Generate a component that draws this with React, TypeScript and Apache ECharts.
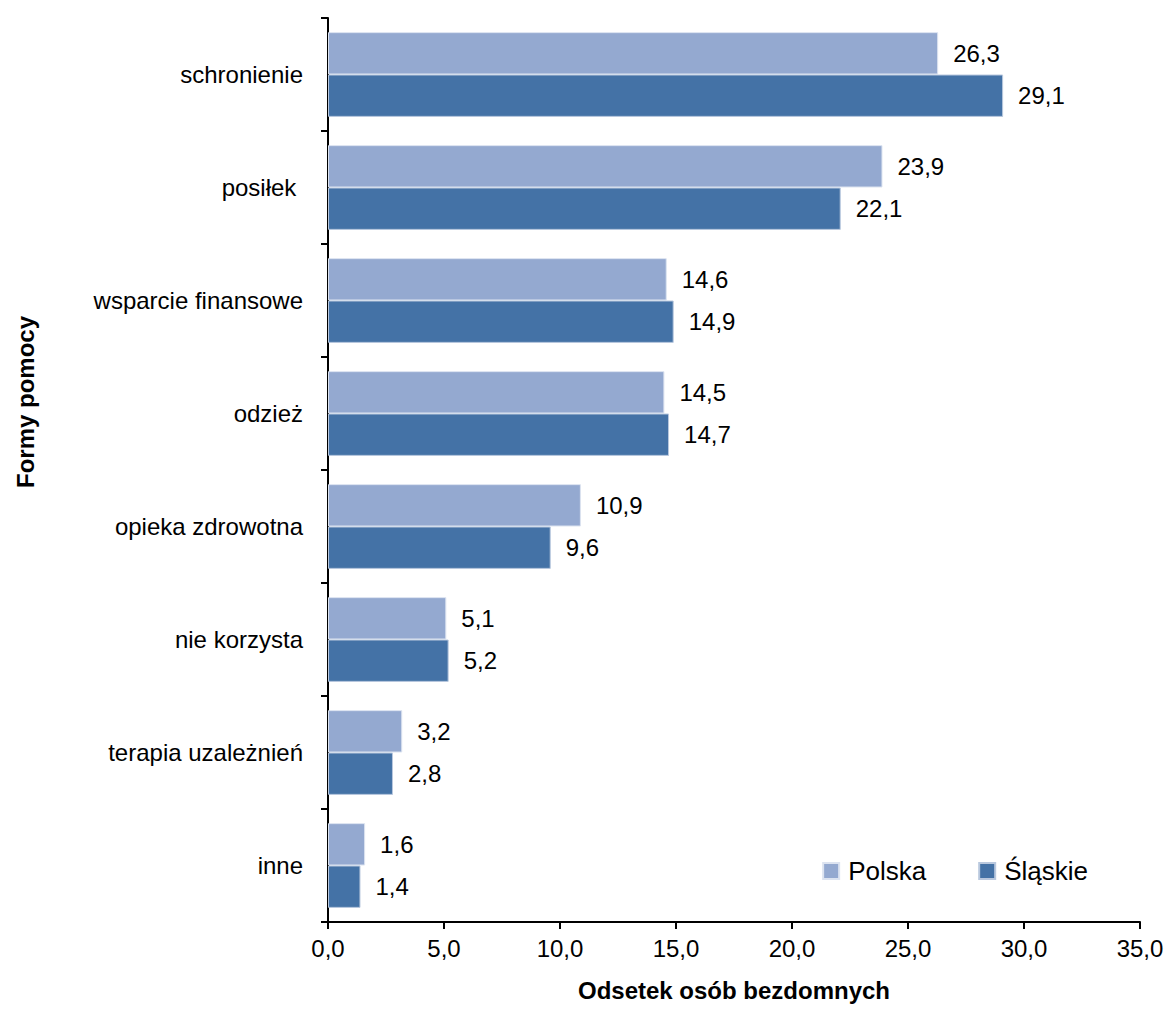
import React, { useEffect, useRef } from "react";
import * as echarts from "echarts";

const categories = [
  "schronienie",
  "posiłek ",
  "wsparcie finansowe",
  "odzież",
  "opieka zdrowotna",
  "nie korzysta",
  "terapia uzależnień",
  "inne",
];
const polska = [26.3, 23.9, 14.6, 14.5, 10.9, 5.1, 3.2, 1.6];
const slaskie = [29.1, 22.1, 14.9, 14.7, 9.6, 5.2, 2.8, 1.4];
const seriesNames = ["Polska", "Śląskie"];
const xTicks = { min: 0, max: 35, interval: 5 };

const FONT = "'Liberation Sans', Arial, sans-serif";
const fmt = (v: number) => v.toFixed(1).replace(".", ",");

export default function App() {
  const ref = useRef<HTMLDivElement>(null);
  useEffect(() => {
    document.body.style.margin = "0";
    if (!ref.current) return;
    const chart = echarts.init(ref.current, undefined, { renderer: "svg" });
    const labelStyle = {
      show: true,
      position: "right" as const,
      distance: 15,
      fontFamily: FONT,
      fontSize: 24,
      color: "#000",
      formatter: (p: any) => fmt(p.value),
    };
    chart.setOption({
      animation: false,
      textStyle: { fontFamily: FONT },
      grid: { left: 328, right: 28, top: 18, bottom: 112, containLabel: false },
      legend: {
        right: 75,
        top: 853,
        itemWidth: 16,
        itemHeight: 16,
        itemGap: 52,
        icon: "rect",
        textStyle: { fontFamily: FONT, fontSize: 26, color: "#000", padding: [0, 0, 0, 4] },
        data: seriesNames,
      },
      xAxis: {
        type: "value",
        min: xTicks.min,
        max: xTicks.max,
        interval: xTicks.interval,
        splitLine: { show: false },
        axisLine: { show: true, lineStyle: { color: "#000", width: 2 } },
        axisTick: { show: true, length: 7, lineStyle: { color: "#000", width: 2 } },
        axisLabel: { fontFamily: FONT, fontSize: 24, color: "#000", margin: 14, formatter: (v: number) => fmt(v) },
        name: "Odsetek osób bezdomnych",
        nameLocation: "middle",
        nameGap: 56,
        nameTextStyle: { fontFamily: FONT, fontSize: 24, fontWeight: "bold", color: "#000" },
      },
      yAxis: {
        type: "category",
        inverse: true,
        data: categories,
        axisLine: { show: true, lineStyle: { color: "#000", width: 2 } },
        axisTick: { show: true, length: 7, lineStyle: { color: "#000", width: 2 } },
        axisLabel: { fontFamily: FONT, fontSize: 24, color: "#000", margin: 25 },
      },
      graphic: [
        {
          type: "text",
          x: 25,
          y: 402,
          rotation: Math.PI / 2,
          style: {
            text: "Formy pomocy",
            fontFamily: FONT,
            fontSize: 24,
            fontWeight: "bold",
            fill: "#000",
            textAlign: "center",
            textVerticalAlign: "middle",
          },
        },
      ],
      series: [
        {
          name: seriesNames[0],
          type: "bar",
          data: polska,
          barGap: "0%",
          barCategoryGap: "25%",
          itemStyle: { color: "#94A9D0", borderColor: "#DCE3F0", borderWidth: 1 },
          label: labelStyle,
        },
        {
          name: seriesNames[1],
          type: "bar",
          data: slaskie,
          barGap: "0%",
          barCategoryGap: "25%",
          itemStyle: { color: "#4472A6", borderColor: "#B9C8DE", borderWidth: 1 },
          label: labelStyle,
        },
      ],
    });
    return () => chart.dispose();
  }, []);
  return <div ref={ref} style={{ width: 1168, height: 1034 }} />;
}
